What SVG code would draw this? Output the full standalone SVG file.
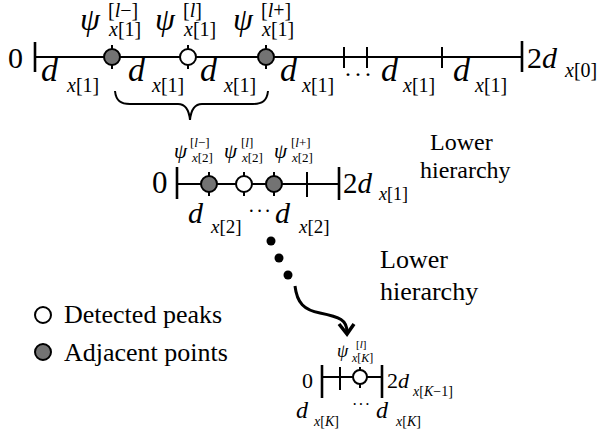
<svg xmlns="http://www.w3.org/2000/svg" width="602" height="439" viewBox="0 0 602 439" font-family="Liberation Serif">
<defs>
<circle id="pk" r="8" fill="#fff" stroke="#000" stroke-width="2"/>
<circle id="adj" r="8" fill="#737373" stroke="#000" stroke-width="2"/>
</defs>
<rect width="602" height="439" fill="#fff"/>

<g id="level1">
  <g stroke="#000" stroke-width="2" fill="none">
    <line x1="35" y1="57" x2="522" y2="57"/>
    <line x1="35" y1="42" x2="35" y2="72" stroke-width="2.6"/>
    <line x1="522" y1="41" x2="522" y2="72" stroke-width="2.6"/>
    <line x1="344" y1="47" x2="344" y2="68"/>
    <line x1="367" y1="47" x2="367" y2="68"/>
    <line x1="442" y1="47" x2="442" y2="68"/>
    <line x1="112" y1="45" x2="112" y2="69"/>
    <line x1="188" y1="45" x2="188" y2="69"/>
    <line x1="266" y1="45" x2="266" y2="69"/>
  </g>
  <use href="#adj" x="112" y="57"/>
  <use href="#pk" x="188" y="57"/>
  <use href="#adj" x="266" y="57"/>
  <text font-family="Liberation Serif" x="8" y="68" font-size="30">0</text>
  <text font-family="Liberation Serif" x="527" y="68" font-size="30">2<tspan font-style="italic">d</tspan></text>
  <text font-family="Liberation Serif" x="565" y="77" font-size="20"><tspan font-style="italic">x</tspan>[0]</text>
  <text font-family="Liberation Serif" x="80" y="30" font-size="32" font-style="italic">ψ</text>
  <text font-family="Liberation Serif" x="108" y="17" font-size="20">[<tspan font-style="italic">l</tspan>−]</text>
  <text font-family="Liberation Serif" x="109" y="36" font-size="20"><tspan font-style="italic">x</tspan>[1]</text>
  <text font-family="Liberation Serif" x="155" y="30" font-size="32" font-style="italic">ψ</text>
  <text font-family="Liberation Serif" x="183" y="17" font-size="20">[<tspan font-style="italic">l</tspan>]</text>
  <text font-family="Liberation Serif" x="184" y="36" font-size="20"><tspan font-style="italic">x</tspan>[1]</text>
  <text font-family="Liberation Serif" x="233" y="30" font-size="32" font-style="italic">ψ</text>
  <text font-family="Liberation Serif" x="261" y="17" font-size="20">[<tspan font-style="italic">l</tspan>+]</text>
  <text font-family="Liberation Serif" x="262" y="36" font-size="20"><tspan font-style="italic">x</tspan>[1]</text>
  <g font-family="Liberation Serif">
    <text x="41" y="81" font-size="34" font-style="italic">d</text>
    <text x="67" y="92" font-size="20"><tspan font-style="italic">x</tspan>[1]</text>
    <text x="128" y="81" font-size="34" font-style="italic">d</text>
    <text x="152" y="92" font-size="20"><tspan font-style="italic">x</tspan>[1]</text>
    <text x="200" y="81" font-size="34" font-style="italic">d</text>
    <text x="224" y="92" font-size="20"><tspan font-style="italic">x</tspan>[1]</text>
    <text x="280" y="81" font-size="34" font-style="italic">d</text>
    <text x="302" y="92" font-size="20"><tspan font-style="italic">x</tspan>[1]</text>
    <text x="344" y="82" font-size="24" letter-spacing="2">···</text>
    <text x="381" y="81" font-size="34" font-style="italic">d</text>
    <text x="403" y="92" font-size="20"><tspan font-style="italic">x</tspan>[1]</text>
    <text x="453" y="81" font-size="34" font-style="italic">d</text>
    <text x="475" y="92" font-size="20"><tspan font-style="italic">x</tspan>[1]</text>
  </g>
</g>

<g id="brace">
  <path d="M115,91 C116,101 121,104 130,104 L178,104 C186,104 189,110 190,120 C191,110 194,104 202,104 L253,104 C262,104 267,101 268,91" fill="none" stroke="#000" stroke-width="2"/>
</g>

<g id="level2">
  <g stroke="#000" stroke-width="2" fill="none">
    <line x1="177" y1="184" x2="339" y2="184"/>
    <line x1="177" y1="167" x2="177" y2="199" stroke-width="2.6"/>
    <line x1="339" y1="167" x2="339" y2="200" stroke-width="2.6"/>
    <line x1="307" y1="172" x2="307" y2="197"/>
    <line x1="209" y1="172" x2="209" y2="196"/>
    <line x1="244" y1="172" x2="244" y2="196"/>
    <line x1="274" y1="172" x2="274" y2="196"/>
  </g>
  <use href="#adj" x="209" y="184"/>
  <use href="#pk" x="244" y="184"/>
  <use href="#adj" x="274" y="184"/>
  <g font-family="Liberation Serif">
    <text x="152" y="193" font-size="31">0</text>
    <text x="343" y="193" font-size="29">2<tspan font-style="italic">d</tspan></text>
    <text x="379" y="200" font-size="18"><tspan font-style="italic">x</tspan>[1]</text>
    <text x="174" y="158" font-size="21" font-style="italic">ψ</text>
    <text x="190" y="147" font-size="13">[<tspan font-style="italic">l</tspan>−]</text>
    <text x="192" y="162" font-size="13"><tspan font-style="italic">x</tspan>[2]</text>
    <text x="224" y="158" font-size="21" font-style="italic">ψ</text>
    <text x="241" y="147" font-size="13">[<tspan font-style="italic">l</tspan>]</text>
    <text x="242" y="162" font-size="13"><tspan font-style="italic">x</tspan>[2]</text>
    <text x="274" y="158" font-size="21" font-style="italic">ψ</text>
    <text x="291" y="147" font-size="13">[<tspan font-style="italic">l</tspan>+]</text>
    <text x="292" y="162" font-size="13"><tspan font-style="italic">x</tspan>[2]</text>
    <text x="188" y="223" font-size="30" font-style="italic">d</text>
    <text x="211" y="233" font-size="19"><tspan font-style="italic">x</tspan>[2]</text>
    <text x="248" y="218" font-size="20" letter-spacing="1.5">···</text>
    <text x="275" y="223" font-size="30" font-style="italic">d</text>
    <text x="299" y="233" font-size="19"><tspan font-style="italic">x</tspan>[2]</text>
    <text x="430" y="150" font-size="24">Lower</text>
    <text x="420" y="178" font-size="24">hierarchy</text>
  </g>
</g>

<g id="connectors">
  <circle cx="271" cy="241" r="4.5" fill="#000"/>
  <circle cx="279" cy="258" r="4.5" fill="#000"/>
  <circle cx="288" cy="275" r="4.5" fill="#000"/>
  <path d="M295,286 C297,303 304,310 320,313 C340,317 347,320 347,332" fill="none" stroke="#000" stroke-width="3"/>
  <polyline points="339,324 347,334 354,324" fill="none" stroke="#000" stroke-width="3.5"/>
</g>

<g id="lower2" font-family="Liberation Serif">
  <text x="380" y="268" font-size="26">Lower</text>
  <text x="380" y="300" font-size="26">hierarchy</text>
</g>

<g id="levelK">
  <g stroke="#000" stroke-width="2" fill="none">
    <line x1="322" y1="377" x2="382" y2="377"/>
    <line x1="322" y1="365" x2="322" y2="398" stroke-width="2.6"/>
    <line x1="382" y1="365" x2="382" y2="398" stroke-width="2.6"/>
    <line x1="340" y1="367" x2="340" y2="390"/>
    <line x1="360" y1="367" x2="360" y2="388"/>
    <circle cx="360" cy="377" r="7" fill="#fff"/>
  </g>
  <g font-family="Liberation Serif">
    <text x="302" y="388" font-size="22">0</text>
    <text x="387" y="388" font-size="22">2<tspan font-style="italic">d</tspan></text>
    <text x="413" y="396" font-size="14"><tspan font-style="italic">x</tspan>[<tspan font-style="italic">K</tspan>−1]</text>
    <text x="337" y="357" font-size="18" font-style="italic">ψ</text>
    <text x="356" y="348" font-size="11">[<tspan font-style="italic">l</tspan>]</text>
    <text x="352" y="362" font-size="12"><tspan font-style="italic">x</tspan>[<tspan font-style="italic">K</tspan>]</text>
    <text x="296" y="418" font-size="24" font-style="italic">d</text>
    <text x="314" y="426" font-size="14"><tspan font-style="italic">x</tspan>[<tspan font-style="italic">K</tspan>]</text>
    <text x="352" y="410" font-size="16" letter-spacing="1">···</text>
    <text x="376" y="418" font-size="24" font-style="italic">d</text>
    <text x="396" y="426" font-size="14"><tspan font-style="italic">x</tspan>[<tspan font-style="italic">K</tspan>]</text>
  </g>
</g>

<g id="legend">
  <use href="#pk" x="43" y="315"/>
  <text font-family="Liberation Serif" x="64" y="323" font-size="26">Detected peaks</text>
  <use href="#adj" x="43" y="352"/>
  <text font-family="Liberation Serif" x="64" y="361" font-size="26">Adjacent points</text>
</g>
</svg>
